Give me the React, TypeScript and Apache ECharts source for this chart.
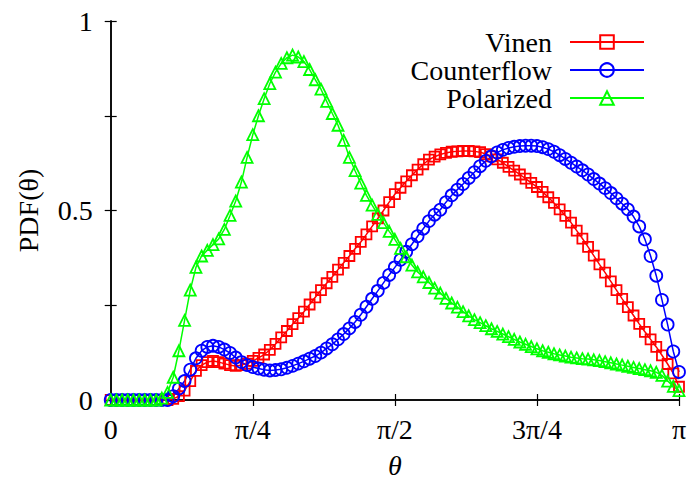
import React, { useEffect, useRef } from "react";
import * as echarts from "echarts";

// Angle samples: theta_i = i * PI / DIVISIONS, i = 0..DIVISIONS
const DIVISIONS = 100;

const seriesNames = ["Vinen", "Counterflow", "Polarized"];
const seriesColors = ["#ff0000", "#0000ff", "#00ff00"];
const seriesSymbols = ["rect", "circle", "triangle"];

const vinen = [
  0, 0, 0, 0, 0, 0, 0, 0, 0, 0,
  0, 0.003, 0.01, 0.025, 0.05, 0.077, 0.092, 0.1, 0.103, 0.1,
  0.096, 0.092, 0.09, 0.092, 0.096, 0.103, 0.111, 0.12, 0.132, 0.148,
  0.165, 0.182, 0.2, 0.216, 0.233, 0.252, 0.271, 0.29, 0.308, 0.325,
  0.344, 0.362, 0.38, 0.399, 0.417, 0.437, 0.458, 0.479, 0.5, 0.522,
  0.543, 0.56, 0.577, 0.593, 0.608, 0.622, 0.634, 0.642, 0.648, 0.652,
  0.655, 0.656, 0.657, 0.657, 0.656, 0.654, 0.649, 0.643, 0.635, 0.626,
  0.615, 0.605, 0.595, 0.584, 0.573, 0.562, 0.549, 0.535, 0.52, 0.503,
  0.486, 0.468, 0.447, 0.426, 0.404, 0.381, 0.358, 0.336, 0.313, 0.29,
  0.267, 0.245, 0.223, 0.201, 0.18, 0.16, 0.14, 0.118, 0.095, 0.07,
  0.035,
];

const counterflow = [
  0, 0, 0, 0, 0, 0, 0, 0, 0, 0,
  0, 0.01, 0.03, 0.05, 0.08, 0.11, 0.13, 0.14, 0.143, 0.14,
  0.133, 0.124, 0.112, 0.1, 0.092, 0.087, 0.083, 0.08, 0.078, 0.079,
  0.081, 0.085, 0.09, 0.096, 0.102, 0.109, 0.116, 0.125, 0.136, 0.147,
  0.16, 0.174, 0.189, 0.206, 0.225, 0.246, 0.267, 0.288, 0.309, 0.33,
  0.35, 0.37, 0.391, 0.411, 0.432, 0.452, 0.472, 0.489, 0.502, 0.522,
  0.54, 0.555, 0.57, 0.586, 0.601, 0.617, 0.631, 0.643, 0.653, 0.66,
  0.665, 0.668, 0.67, 0.671, 0.671, 0.67, 0.667, 0.662, 0.655, 0.646,
  0.636, 0.626, 0.616, 0.606, 0.595, 0.583, 0.571, 0.559, 0.546, 0.532,
  0.518, 0.503, 0.484, 0.458, 0.424, 0.38, 0.328, 0.264, 0.199, 0.128,
  0.074,
];

const polarized = [
  0, 0, 0, 0, 0, 0, 0, 0, 0, 0.005,
  0.02, 0.06, 0.13, 0.21, 0.29, 0.35, 0.38, 0.395, 0.41, 0.425,
  0.45, 0.487, 0.525, 0.575, 0.64, 0.7, 0.75, 0.795, 0.835, 0.865,
  0.888, 0.903, 0.91, 0.905, 0.893, 0.872, 0.845, 0.82, 0.788, 0.756,
  0.725, 0.685, 0.64, 0.605, 0.572, 0.54, 0.514, 0.49, 0.468, 0.445,
  0.424, 0.4, 0.378, 0.356, 0.338, 0.325, 0.31, 0.295, 0.282, 0.268,
  0.256, 0.245, 0.233, 0.222, 0.212, 0.204, 0.196, 0.188, 0.181, 0.174,
  0.167, 0.16, 0.153, 0.147, 0.141, 0.135, 0.13, 0.126, 0.122, 0.119,
  0.116, 0.113, 0.111, 0.109, 0.108, 0.106, 0.104, 0.101, 0.098, 0.095,
  0.092, 0.089, 0.086, 0.083, 0.08, 0.077, 0.073, 0.065, 0.05, 0.036,
  0.025,
];

const seriesValues = [vinen, counterflow, polarized];
const symbolSizes = [10, 12, 11];

const xTickLabels = ["0", "π/4", "π/2", "3π/4", "π"];
const yTickLabels = ["0", "", "0.5", "", "1"];

const SERIF = "Liberation Serif";
const FS = 28;

export default function App() {
  const ref = useRef<HTMLDivElement>(null);

  useEffect(() => {
    if (!ref.current) return;
    const chart = echarts.init(ref.current, undefined, { renderer: "svg" });

    const axisLine = { show: true, lineStyle: { color: "#000", width: 1.5 } };
    const axisTick = { show: true, inside: true, length: 6, lineStyle: { color: "#000", width: 1.2 } };

    chart.setOption({
      animation: false,
      backgroundColor: "#fff",
      grid: { left: 110.7, right: 11, top: 21, bottom: 77.3 },
      legend: {
        orient: "vertical",
        right: 45,
        top: 28,
        padding: 0,
        align: "right",
        itemWidth: 74,
        itemHeight: 17,
        itemGap: 0,
        textStyle: {
          fontFamily: SERIF,
          fontSize: FS,
          color: "#000",
          lineHeight: 28,
          padding: [0, 13, 0, 0],
        },
        data: seriesNames,
      },
      xAxis: [
        {
          type: "value",
          min: 0,
          max: Math.PI,
          interval: Math.PI / 4,
          position: "bottom",
          splitLine: { show: false },
          axisLine,
          axisTick,
          name: "θ",
          nameLocation: "middle",
          nameGap: 51,
          nameTextStyle: { fontFamily: SERIF, fontSize: FS, fontStyle: "italic", color: "#000" },
          axisLabel: {
            margin: 15,
            fontFamily: SERIF,
            fontSize: FS,
            color: "#000",
            formatter: (v: number) => xTickLabels[Math.round(v / (Math.PI / 4))] || "",
          },
        },
        {
          type: "value",
          min: 0,
          max: Math.PI,
          interval: Math.PI / 4,
          position: "top",
          splitLine: { show: false },
          axisLine,
          axisTick,
          axisLabel: { show: false },
        },
      ],
      yAxis: [
        {
          type: "value",
          min: 0,
          max: 1,
          interval: 0.25,
          position: "left",
          splitLine: { show: false },
          axisLine,
          axisTick,
          name: "PDF(θ)",
          nameLocation: "middle",
          nameGap: 68,
          nameTextStyle: { fontFamily: SERIF, fontSize: FS, color: "#000" },
          axisLabel: {
            margin: 18,
            fontFamily: SERIF,
            fontSize: FS,
            color: "#000",
            formatter: (v: number) => yTickLabels[Math.round(v / 0.25)] || "",
          },
        },
        {
          type: "value",
          min: 0,
          max: 1,
          interval: 0.25,
          position: "right",
          splitLine: { show: false },
          axisLine,
          axisTick,
          axisLabel: { show: false },
        },
      ],
      series: seriesNames.map((name, k) => ({
        name,
        type: "line",
        xAxisIndex: 0,
        yAxisIndex: 0,
        data: seriesValues[k].map((v, i) => [(i * Math.PI) / DIVISIONS, v]),
        symbol: seriesSymbols[k],
        symbolSize: symbolSizes[k],
        showAllSymbol: true,
        itemStyle: {
          color: "rgba(255,255,255,0)",
          borderColor: seriesColors[k],
          borderWidth: 1.8,
        },
        lineStyle: { color: seriesColors[k], width: 1.5 },
        emphasis: { disabled: true },
      })),
    });

    return () => chart.dispose();
  }, []);

  return (
    <div
      ref={ref}
      style={{ position: "fixed", left: 0, top: 0, width: 690, height: 484, background: "#fff" }}
    />
  );
}
